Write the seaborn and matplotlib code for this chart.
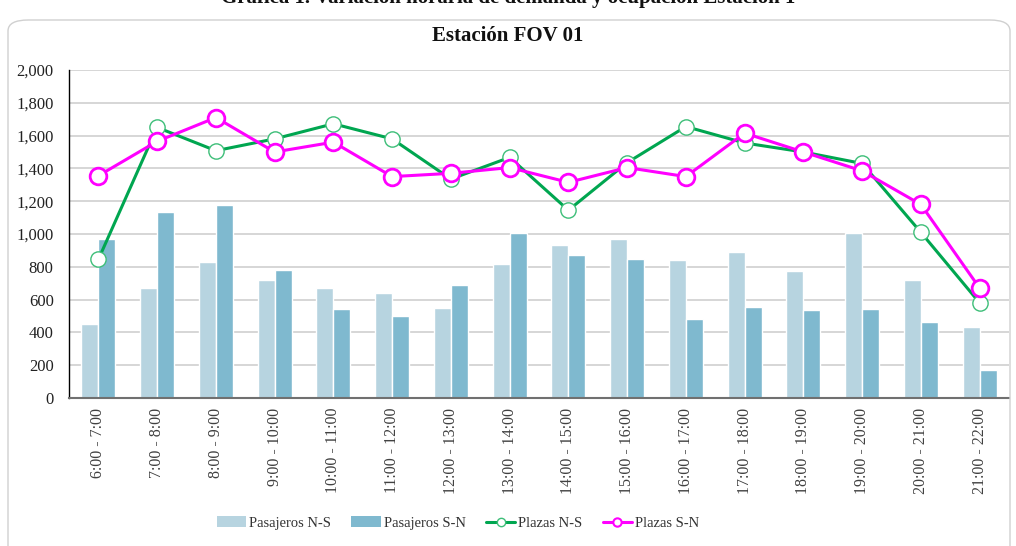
import numpy as np
import pandas as pd
import matplotlib
matplotlib.use("Agg")
import matplotlib.pyplot as plt
from matplotlib.patches import FancyBboxPatch, Patch
from matplotlib.lines import Line2D
from matplotlib.ticker import FuncFormatter
import seaborn as sns

hours = ["6:00 - 7:00", "7:00 - 8:00", "8:00 - 9:00", "9:00 - 10:00", "10:00 - 11:00",
         "11:00 - 12:00", "12:00 - 13:00", "13:00 - 14:00", "14:00 - 15:00", "15:00 - 16:00",
         "16:00 - 17:00", "17:00 - 18:00", "18:00 - 19:00", "19:00 - 20:00", "20:00 - 21:00",
         "21:00 - 22:00"]
pasajeros_ns = [450, 670, 830, 720, 670, 640, 550, 820, 930, 970, 840, 890, 775, 1005, 720, 430]
pasajeros_sn = [970, 1135, 1175, 780, 545, 500, 690, 1005, 875, 845, 480, 555, 535, 540, 465, 170]
plazas_ns = [845, 1650, 1508, 1580, 1672, 1580, 1335, 1467, 1145, 1435, 1655, 1555, 1500, 1430, 1010, 580]
plazas_sn = [1355, 1565, 1710, 1500, 1560, 1350, 1370, 1405, 1315, 1405, 1350, 1615, 1500, 1385, 1180, 670]

sns.set_theme(style="white")
plt.rcParams['font.family'] = ['Liberation Serif', 'DejaVu Serif']

c_ns_bar = "#B7D4E0"
c_sn_bar = "#7FB9CF"
c_green = "#00A650"
c_green_edge = "#3DBE78"
c_mag = "#FF00FF"

fig = plt.figure(figsize=(10.16, 5.46), dpi=100)
ax = fig.add_axes([69/1016, 1 - 398/546, 940/1016, 328/546])

# frame
frame = FancyBboxPatch((8/1016, -0.05), 1002/1016, 1 - 20/546 + 0.05,
                       boxstyle="round,pad=0,rounding_size=0.02",
                       transform=fig.transFigure, fill=False,
                       edgecolor="#D0D0D0", linewidth=1.0, zorder=0)
fig.patches.append(frame)

df = pd.DataFrame({
    "Hora": hours * 2,
    "valor": pasajeros_ns + pasajeros_sn,
    "serie": ["Pasajeros N-S"] * len(hours) + ["Pasajeros S-N"] * len(hours),
})
sns.barplot(data=df, x="Hora", y="valor", hue="serie",
            palette={"Pasajeros N-S": c_ns_bar, "Pasajeros S-N": c_sn_bar},
            width=0.58, gap=0, ax=ax, legend=False, zorder=2, saturation=1)

xs = np.arange(len(hours))
sns.lineplot(x=xs, y=plazas_ns, ax=ax, color=c_green, linewidth=2.2, marker="o",
             markersize=11, markerfacecolor="white", markeredgecolor=c_green_edge,
             markeredgewidth=1.0, zorder=4)
sns.lineplot(x=xs, y=plazas_sn, ax=ax, color=c_mag, linewidth=2.2, marker="o",
             markersize=12, markerfacecolor="white", markeredgecolor=c_mag,
             markeredgewidth=2.0, zorder=5)

ax.set_xlim(-0.5, len(hours) - 0.5)
ax.set_ylim(0, 2000)
ax.set_yticks(range(0, 2001, 200))
ax.yaxis.set_major_formatter(FuncFormatter(lambda v, p: f"{int(v):,}"))
ax.set_xticks(xs)
ax.set_xticklabels(hours, rotation=90, fontsize=11.5, color="#404040")
ax.tick_params(axis="y", labelsize=12, colors="#222222", length=0, pad=11)
ax.tick_params(axis="x", length=0, pad=7)
ax.set_xlabel("")
ax.set_ylabel("")
ax.grid(axis="y", color="#CFCFCF", linewidth=1.2, zorder=0)
ax.set_axisbelow(True)
for s in ["top", "right"]:
    ax.spines[s].set_visible(False)
ax.spines["left"].set_color("#000000")
ax.spines["left"].set_linewidth(1.0)
ax.spines["bottom"].set_color("#707070")
ax.spines["bottom"].set_linewidth(1.5)

fig.text(0.5, 1 - 36/546, "Estación FOV 01", ha="center", va="center",
         fontsize=15, fontweight="bold", color="#111111")
fig.text(0.5, 1 + 2/546, "Gráfica 1. Variación horaria de demanda y ocupación Estación 1",
         ha="center", va="center", fontsize=15, fontweight="bold", color="#111111")

handles = [
    Patch(facecolor=c_ns_bar, edgecolor="none", label="Pasajeros N-S"),
    Patch(facecolor=c_sn_bar, edgecolor="none", label="Pasajeros S-N"),
    Line2D([0], [0], color=c_green, linewidth=2.2, marker="o", markersize=6,
           markerfacecolor="white", markeredgecolor=c_green_edge, label="Plazas N-S"),
    Line2D([0], [0], color=c_mag, linewidth=2.2, marker="o", markersize=6,
           markerfacecolor="white", markeredgecolor=c_mag, markeredgewidth=1.5, label="Plazas S-N"),
]
fig.legend(handles=handles, loc="center", bbox_to_anchor=(458/1016, 1 - 523/546), ncol=4,
           frameon=False, fontsize=10.5, handlelength=2.0, handleheight=0.7,
           columnspacing=1.4, handletextpad=0.2, labelcolor="#333333")

fig.savefig("out.png", dpi=100)
